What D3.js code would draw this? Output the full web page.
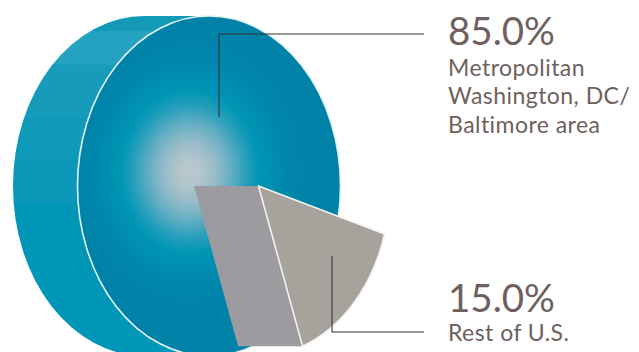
<!DOCTYPE html>
<html>
<head>
<meta charset="utf-8">
<style>
html,body{margin:0;padding:0;background:#fff;overflow:hidden}
svg{display:block}
text{font-family:Lato,sans-serif;fill:#6e615d}
</style>
<script src="https://cdn.jsdelivr.net/npm/d3@7"></script>
</head>
<body>
<svg id="chart" width="639" height="352"></svg>
<script>
// Share of total by region
const regions = ["Metropolitan Washington, DC/ Baltimore area", "Rest of U.S."];
const shares = [85.0, 15.0];
const shareLabels = ["85.0%", "15.0%"];
const labelLines = [["Metropolitan", "Washington, DC/", "Baltimore area"], ["Rest of U.S."]];

// Layout of the tilted disc
const cx = 209, cy = 186, rx = 131.5, ry = 170;
const depth = 64.5, pullOut = 49.5;
const firstAngle = 160.4 * Math.PI / 180;

const svg = d3.select("#chart");
const defs = svg.append("defs");

// Rim shading comes in soft horizontal bands
const rim = defs.append("linearGradient").attr("id", "rim")
  .attr("gradientUnits", "userSpaceOnUse").attr("x1", 0).attr("x2", 0).attr("y1", 0).attr("y2", 352);
[[16, "#149ab9"], [31, "#149ab9"], [31, "#25a2bf"], [64, "#25a2bf"], [65, "#179bba"], [118, "#179bba"],
 [118, "#109aba"], [160, "#0f99ba"], [160, "#0a97b8"], [202, "#0a97b8"], [202, "#0096b7"], [352, "#0096b7"]]
  .forEach(([y, c]) => rim.append("stop").attr("offset", y / 352).attr("stop-color", c));

// Front face glows around a pale spot above the centre
const face = defs.append("radialGradient").attr("id", "face")
  .attr("gradientUnits", "userSpaceOnUse").attr("cx", 0).attr("cy", 0).attr("r", 1)
  .attr("gradientTransform", "translate(190,172) scale(128,150)");
[[0, "#bac8cd"], [0.08, "#b4c6cc"], [0.2, "#97bcc9"], [0.32, "#66aec3"], [0.44, "#279fbb"], [0.54, "#0096b5"], [0.76, "#0086ab"], [1, "#0081a8"]]
  .forEach(([o, c]) => face.append("stop").attr("offset", o).attr("stop-color", c));

const pie = d3.pie().sort(null).value(d => d)
  .startAngle(firstAngle).endAngle(firstAngle + 2 * Math.PI);
const arcs = pie(shares);
const unitArc = d3.arc().innerRadius(0).outerRadius(1);
const onFace = (angle, ox) => [cx + ox + rx * Math.sin(angle), cy - ry * Math.cos(angle)];

// Back of the disc: rear ellipse and the band that joins it to the front
const body = svg.append("g").attr("fill", "url(#rim)");
body.append("ellipse").attr("cx", cx - depth).attr("cy", cy).attr("rx", rx).attr("ry", ry);
body.append("rect").attr("x", cx - depth).attr("y", cy - ry).attr("width", depth).attr("height", 2 * ry);

// Front face, whole; the pulled-out wedge is laid on top of it
svg.append("ellipse").attr("cx", cx).attr("cy", cy).attr("rx", rx).attr("ry", ry)
  .attr("fill", "url(#face)").attr("stroke", "#e4f1f5").attr("stroke-width", 1.6);

// Cut wall of the pulled-out wedge
const wedge = arcs[1];
const tip = [cx + pullOut, cy];
const low = onFace(wedge.endAngle, pullOut);
const wallPath = d3.path();
wallPath.moveTo(tip[0] - depth, tip[1]);
wallPath.lineTo(tip[0], tip[1]);
wallPath.lineTo(low[0], low[1]);
wallPath.lineTo(low[0] - depth, low[1]);
wallPath.closePath();
svg.append("path").attr("d", wallPath.toString()).attr("fill", "#9b9ba0");

// Wedge face
svg.append("g").attr("transform", `translate(${cx + pullOut},${cy}) scale(${rx},${ry})`)
  .append("path").attr("d", unitArc(wedge))
  .attr("fill", "#a8a29d").attr("stroke", "#f4f3f2").attr("stroke-width", 1.6)
  .attr("vector-effect", "non-scaling-stroke").attr("stroke-linejoin", "round");

// Leader lines
const leaders = [[[424, 34], [219, 34], [219, 117]], [[424, 332], [332, 332], [332, 256]]];
const leaderLine = d3.line();
svg.selectAll("path.leader").data(leaders).join("path").attr("class", "leader")
  .attr("d", leaderLine).attr("fill", "none").attr("stroke", "#333333").attr("stroke-width", 1.1);

// Labels
const blocks = [{top: 45, lines: [76, 104, 133]}, {top: 312, lines: [341]}];
blocks.forEach((b, i) => {
  svg.append("text").attr("x", 448).attr("y", b.top).attr("font-size", 38.5).text(shareLabels[i]);
  labelLines[i].forEach((t, j) => {
    svg.append("text").attr("x", 448).attr("y", b.lines[j]).attr("font-size", 23).attr("letter-spacing", 0.45).text(t);
  });
});
</script>
</body>
</html>
